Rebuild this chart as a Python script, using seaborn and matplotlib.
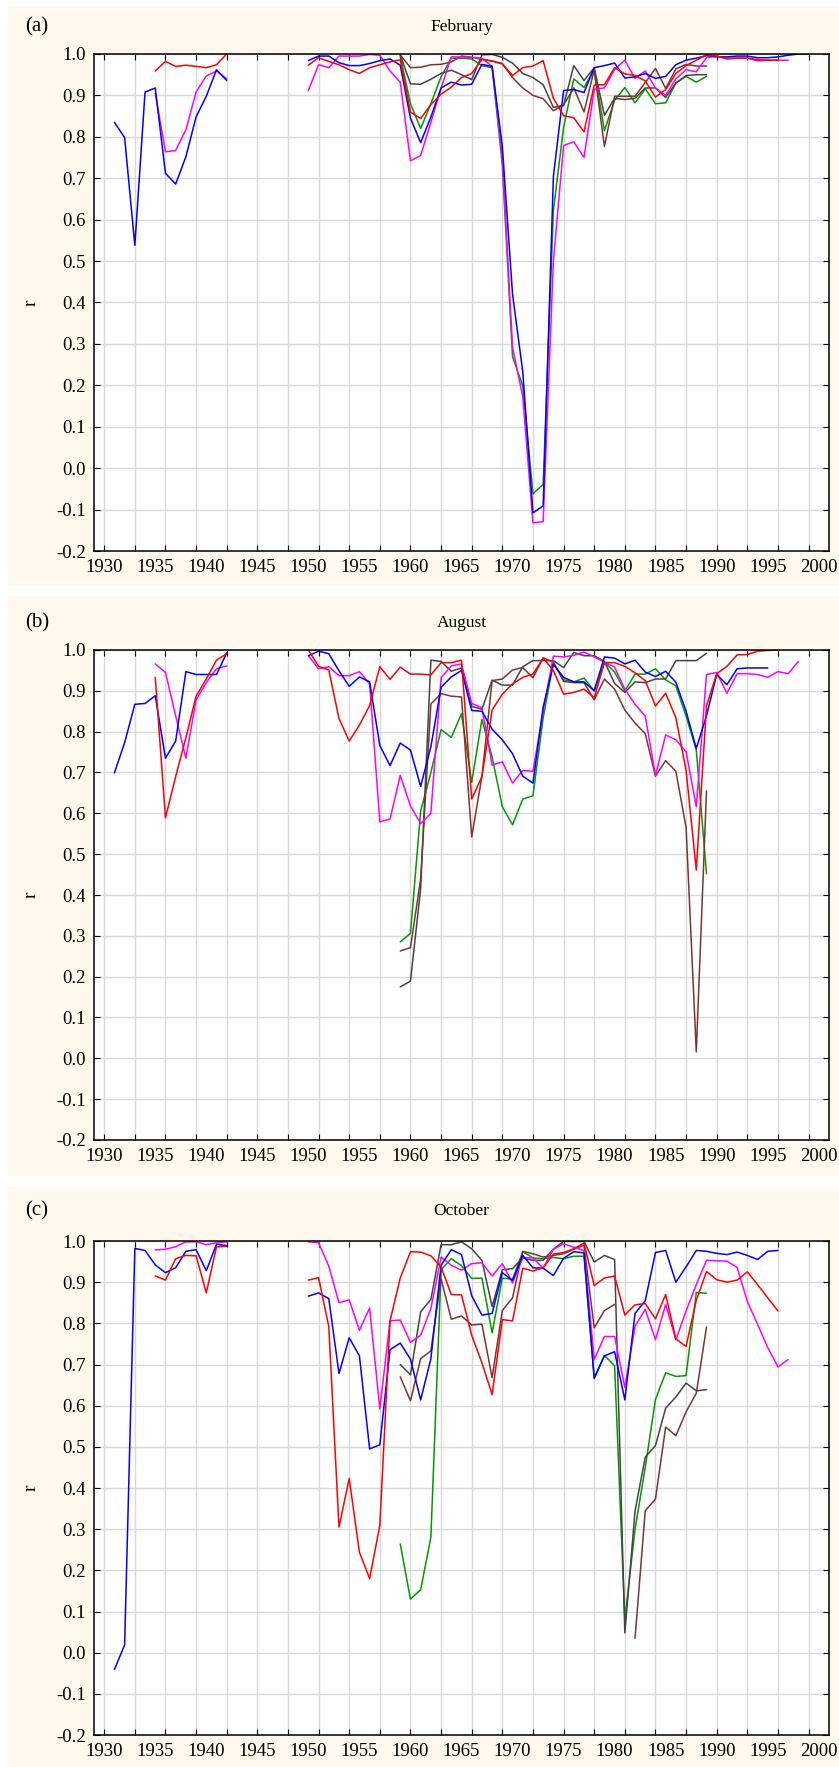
import numpy as np
import pandas as pd
import matplotlib
matplotlib.use("Agg")
import matplotlib.pyplot as plt
import seaborn as sns
from matplotlib.patches import Rectangle

# each series is a list of (first year, yearly r values) runs; gaps between runs
feb_blue = [(1931, [0.835, 0.798, 0.538, 0.908, 0.918, 0.712, 0.686, 0.752, 0.848, 0.898, 0.962, 0.936]),
            (1950, [0.984, 0.995, 0.995, 0.979, 0.972, 0.972, 0.977, 0.984, 0.988, 0.973,
                    0.845, 0.786, 0.848, 0.918, 0.932, 0.925, 0.927, 0.975, 0.970, 0.777,
                    0.420, 0.233, -0.108, -0.091, 0.704, 0.912, 0.914, 0.907, 0.967, 0.972,
                    0.978, 0.942, 0.945, 0.953, 0.941, 0.946, 0.974, 0.985, 0.990, 0.996,
                    0.993, 0.993, 0.995, 0.995, 0.991, 0.991, 0.993, 0.997, 1.0, 1.0])]
feb_red = [(1935, [0.959, 0.982, 0.970, 0.973, 0.970, 0.967, 0.974, 1.0]),
           (1950, [0.973, 0.991, 0.982, 0.974, 0.962, 0.953, 0.967, 0.974, 0.981, 0.986,
                   0.860, 0.844, 0.878, 0.903, 0.920, 0.943, 0.953, 0.987, 0.983, 0.976,
                   0.948, 0.967, 0.971, 0.984, 0.893, 0.851, 0.846, 0.812, 0.925, 0.926,
                   0.967, 0.952, 0.948, 0.935, 0.896, 0.914, 0.953, 0.972, 0.985, 0.998,
                   0.995, 0.988, 0.990, 0.990, 0.984, 0.985, 0.985])]
feb_magenta = [(1935, [0.905, 0.764, 0.767, 0.817, 0.908, 0.947, 0.959, 0.940]),
               (1950, [0.912, 0.974, 0.967, 0.995, 0.995, 0.995, 0.999, 0.997, 0.959, 0.932,
                       0.742, 0.755, 0.835, 0.918, 0.993, 0.993, 0.992, 0.990, 0.970, 0.750,
                       0.292, 0.173, -0.132, -0.129, 0.50, 0.779, 0.788, 0.750, 0.915, 0.918,
                       0.963, 0.985, 0.941, 0.959, 0.918, 0.900, 0.940, 0.962, 0.957, 0.991,
                       0.995, 0.990, 0.990, 0.990, 0.987, 0.985, 0.985, 0.985])]
feb_green = [(1959, [0.995, 0.880, 0.820, 0.880, 0.945, 0.990, 0.990, 0.988, 0.972, 0.967,
                     0.732, 0.269, 0.199, -0.062, -0.039, 0.622, 0.823, 0.940, 0.919, 0.963,
                     0.815, 0.888, 0.919, 0.882, 0.916, 0.880, 0.882, 0.930, 0.946, 0.932,
                     0.946])]
feb_gray = [(1959, [0.998, 0.928, 0.927, 0.939, 0.953, 0.961, 0.950, 0.938, 0.998, 0.999,
                    0.992, 0.978, 0.953, 0.943, 0.926, 0.871, 0.876, 0.972, 0.936, 0.967,
                    0.852, 0.893, 0.890, 0.893, 0.918, 0.918, 0.895, 0.930, 0.948, 0.950,
                    0.950])]
feb_brown = [(1959, [0.998, 0.967, 0.968, 0.974, 0.975, 0.981, 0.995, 0.992, 0.987, 0.983,
                     0.977, 0.943, 0.918, 0.900, 0.892, 0.863, 0.877, 0.918, 0.860, 0.962,
                     0.777, 0.898, 0.898, 0.898, 0.931, 0.965, 0.917, 0.964, 0.975, 0.971,
                     0.971])]

aug_blue = [(1931, [0.699, 0.773, 0.867, 0.869, 0.888, 0.735, 0.777, 0.947, 0.940, 0.940, 0.940, 0.993]),
            (1950, [0.986, 0.997, 0.991, 0.949, 0.911, 0.934, 0.922, 0.766, 0.717, 0.772,
                    0.755, 0.666, 0.763, 0.909, 0.934, 0.950, 0.852, 0.850, 0.806, 0.780,
                    0.746, 0.691, 0.674, 0.860, 0.965, 0.933, 0.922, 0.922, 0.900, 0.983,
                    0.980, 0.966, 0.975, 0.946, 0.935, 0.948, 0.921, 0.850, 0.759, 0.839,
                    0.940, 0.915, 0.954, 0.956, 0.956, 0.956])]
aug_red = [(1935, [0.933, 0.589, 0.690, 0.785, 0.887, 0.929, 0.975, 0.991]),
           (1950, [1.0, 0.960, 0.951, 0.832, 0.777, 0.816, 0.864, 0.959, 0.928, 0.958,
                   0.941, 0.941, 0.939, 0.969, 0.969, 0.975, 0.635, 0.690, 0.853, 0.892,
                   0.917, 0.933, 0.941, 0.980, 0.950, 0.892, 0.896, 0.904, 0.883, 0.969,
                   0.969, 0.960, 0.944, 0.925, 0.863, 0.894, 0.834, 0.705, 0.461, 0.863,
                   0.942, 0.960, 0.988, 0.989, 0.997, 0.999, 1.0])]
aug_magenta = [(1935, [0.966, 0.945, 0.839, 0.735, 0.878, 0.920, 0.954, 0.961]),
               (1950, [0.986, 0.954, 0.959, 0.937, 0.937, 0.947, 0.917, 0.579, 0.586, 0.693,
                       0.618, 0.575, 0.600, 0.932, 0.961, 0.966, 0.869, 0.859, 0.718, 0.726,
                       0.674, 0.705, 0.703, 0.850, 0.985, 0.983, 0.987, 0.995, 0.983, 0.970,
                       0.958, 0.904, 0.867, 0.838, 0.693, 0.792, 0.780, 0.751, 0.616, 0.940,
                       0.945, 0.894, 0.942, 0.942, 0.940, 0.933, 0.947, 0.942, 0.972])]
aug_green = [(1959, [0.285, 0.306, 0.606, 0.700, 0.805, 0.786, 0.844, 0.676, 0.830, 0.738,
                     0.616, 0.572, 0.635, 0.643, 0.834, 0.969, 0.927, 0.922, 0.931, 0.900,
                     0.970, 0.946, 0.900, 0.941, 0.941, 0.954, 0.927, 0.912, 0.838, 0.755,
                     0.452])]
aug_gray = [(1959, [0.175, 0.189, 0.416, 0.975, 0.972, 0.948, 0.956, 0.862, 0.855, 0.926,
                    0.914, 0.914, 0.959, 0.974, 0.974, 0.974, 0.957, 0.994, 0.986, 0.986,
                    0.972, 0.918, 0.896, 0.922, 0.920, 0.929, 0.929, 0.974, 0.974, 0.974,
                    0.992])]
aug_brown = [(1959, [0.263, 0.271, 0.440, 0.868, 0.893, 0.887, 0.885, 0.542, 0.690, 0.925,
                     0.929, 0.951, 0.957, 0.932, 0.981, 0.970, 0.923, 0.920, 0.920, 0.878,
                     0.929, 0.904, 0.853, 0.821, 0.795, 0.691, 0.729, 0.703, 0.565, 0.016,
                     0.655])]

oct_blue = [(1931, [-0.041, 0.019, 0.982, 0.977, 0.942, 0.923, 0.935, 0.975, 0.979, 0.928, 0.992, 0.989]),
            (1950, [0.866, 0.874, 0.860, 0.678, 0.765, 0.721, 0.495, 0.505, 0.736, 0.752,
                    0.713, 0.614, 0.714, 0.941, 0.979, 0.967, 0.867, 0.820, 0.824, 0.923,
                    0.904, 0.965, 0.935, 0.934, 0.916, 0.958, 0.974, 0.971, 0.666, 0.721,
                    0.731, 0.614, 0.824, 0.855, 0.972, 0.977, 0.900, 0.937, 0.977, 0.975,
                    0.970, 0.967, 0.973, 0.965, 0.955, 0.975, 0.977])]
oct_red = [(1935, [0.915, 0.905, 0.957, 0.965, 0.964, 0.874, 0.986, 0.987]),
           (1950, [0.905, 0.911, 0.792, 0.305, 0.423, 0.244, 0.180, 0.309, 0.806, 0.910,
                   0.974, 0.973, 0.964, 0.937, 0.870, 0.869, 0.771, 0.704, 0.627, 0.809,
                   0.806, 0.934, 0.927, 0.935, 0.968, 0.972, 0.981, 0.995, 0.892, 0.910,
                   0.915, 0.820, 0.845, 0.848, 0.811, 0.870, 0.762, 0.744, 0.856, 0.926,
                   0.906, 0.900, 0.905, 0.925, 0.894, 0.862, 0.830])]
oct_magenta = [(1935, [0.978, 0.980, 0.986, 0.998, 0.998, 0.991, 0.996, 0.998]),
               (1950, [0.998, 0.996, 0.939, 0.850, 0.857, 0.783, 0.837, 0.592, 0.806, 0.808,
                       0.754, 0.771, 0.836, 0.961, 0.941, 0.929, 0.945, 0.947, 0.915, 0.945,
                       0.898, 0.959, 0.959, 0.934, 0.980, 0.993, 0.985, 0.977, 0.712, 0.768,
                       0.768, 0.644, 0.793, 0.834, 0.760, 0.846, 0.760, 0.830, 0.894, 0.953,
                       0.952, 0.951, 0.936, 0.853, 0.798, 0.741, 0.694, 0.712])]
oct_green = [(1959, [0.264, 0.130, 0.153, 0.280, 0.930, 0.957, 0.940, 0.909, 0.910, 0.777,
                     0.910, 0.907, 0.974, 0.959, 0.957, 0.960, 0.957, 0.963, 0.963, 0.668,
                     0.722, 0.697, 0.080, 0.300, 0.450, 0.615, 0.680, 0.671, 0.673, 0.875,
                     0.873])]
oct_gray = [(1959, [0.700, 0.675, 0.828, 0.858, 0.991, 0.991, 0.998, 0.981, 0.953, 0.841,
                    0.930, 0.933, 0.959, 0.953, 0.953, 0.980, 0.999, 0.999, 0.999, 0.949,
                    0.965, 0.955, 0.048, 0.344, 0.475, 0.503, 0.594, 0.621, 0.655, 0.636,
                    0.639])]
oct_brown = [(1959, [0.670, 0.612, 0.714, 0.733, 0.908, 0.810, 0.818, 0.796, 0.798, 0.668,
                     0.831, 0.862, 0.975, 0.969, 0.961, 0.965, 0.969, 0.980, 0.990, 0.789,
                     0.831, 0.846]),
             (1982, [0.035, 0.345, 0.373, 0.548, 0.527, 0.585, 0.630, 0.791])]

y_ticks = [-0.2, -0.1, 0.0, 0.1, 0.2, 0.3, 0.4, 0.5, 0.6, 0.7, 0.8, 0.9, 1.0]
y_labels = ["-0.2", "-0.1", "0.0", "0.1", "0.2", "0.3", "0.4", "0.5", "0.6", "0.7", "0.8", "0.9", "1.0"]
x_labels = list(range(1930, 2001, 5))

colors = {"green": "#009a00", "gray": "#444444", "brown": "#7d3431",
          "magenta": "#ff00ff", "blue": "#0000ff", "red": "#ff0000"}
order = ["green", "gray", "brown", "magenta", "blue", "red"]

panels = [
    ("(a)", "February", {"blue": feb_blue, "red": feb_red, "magenta": feb_magenta,
                         "green": feb_green, "gray": feb_gray, "brown": feb_brown}),
    ("(b)", "August", {"blue": aug_blue, "red": aug_red, "magenta": aug_magenta,
                       "green": aug_green, "gray": aug_gray, "brown": aug_brown}),
    ("(c)", "October", {"blue": oct_blue, "red": oct_red, "magenta": oct_magenta,
                        "green": oct_green, "gray": oct_gray, "brown": oct_brown}),
]

# pixel layout: (cream top, cream bottom, plot top, plot bottom, title y)
layout = [(6, 586, 54, 551, 27), (596, 1176, 650, 1140, 623), (1187, 1767, 1241, 1735, 1211)]
W, H = 839, 1767
PL, PR = 94, 829
CREAM = "#fef9ec"


def to_frame(series):
    rows = []
    for name, runs in series.items():
        for k, (start, vals) in enumerate(runs):
            for i, v in enumerate(vals):
                rows.append((start + i, v, name, f"{name}{k}"))
    return pd.DataFrame(rows, columns=["year", "r", "series", "seg"])


sns.set_style("white")
plt.rcParams["font.family"] = ["Liberation Serif", "DejaVu Serif"]
plt.rcParams["text.color"] = "black"
plt.rcParams["xtick.color"] = "black"
plt.rcParams["ytick.color"] = "black"
plt.rcParams["axes.labelcolor"] = "black"

fig = plt.figure(figsize=(W / 100, H / 100), dpi=100)

for (tag, title, series), (ct, cb, pt, pb, ty) in zip(panels, layout):
    bg = Rectangle((8 / W, 1 - cb / H), (W - 8) / W, (cb - ct) / H,
                   transform=fig.transFigure, facecolor=CREAM, edgecolor="none")
    bg.set_zorder(-10)
    fig.add_artist(bg)

    ax = fig.add_axes([PL / W, 1 - pb / H, (PR - PL) / W, (pb - pt) / H])
    ax.set_zorder(5)
    ax.set_facecolor("white")

    df = to_frame(series)
    sns.lineplot(data=df, x="year", y="r", hue="series", hue_order=order,
                 palette=colors, units="seg", estimator=None, linewidth=1.1,
                 legend=False, ax=ax)

    ax.set_xlim(1929, 2001)
    ax.set_ylim(-0.2, 1.0)

    # grid / tick marks every 3 years, labels every 5 years
    ax.xaxis.remove_overlapping_locs = False
    ax.set_xticks(np.arange(1930, 2000, 3), labels=[])
    ax.set_xticks(x_labels, labels=[str(x) for x in x_labels], minor=True)
    ax.set_yticks(y_ticks, labels=y_labels)
    ax.tick_params(axis="x", which="major", direction="in", length=4, top=True, bottom=True)
    ax.tick_params(axis="x", which="minor", length=0, pad=6, labelsize=13.5)
    ax.tick_params(axis="y", direction="in", length=4, left=True, right=True,
                   pad=6, labelsize=13.5)
    ax.grid(True, which="major", color="#d9d9d9", linewidth=1.0)
    ax.set_axisbelow(True)
    for sp in ax.spines.values():
        sp.set_color("black")
        sp.set_linewidth(1.1)

    ax.set_xlabel("")
    ax.set_ylabel("r", fontsize=14, labelpad=12)

    fig.text(37 / W, 1 - ty / H, tag, ha="center", va="center", fontsize=15)
    fig.text((PL + PR) / 2 / W, 1 - ty / H, title, ha="center", va="center", fontsize=12.5)

fig.savefig("out.png", dpi=100, facecolor="white")
